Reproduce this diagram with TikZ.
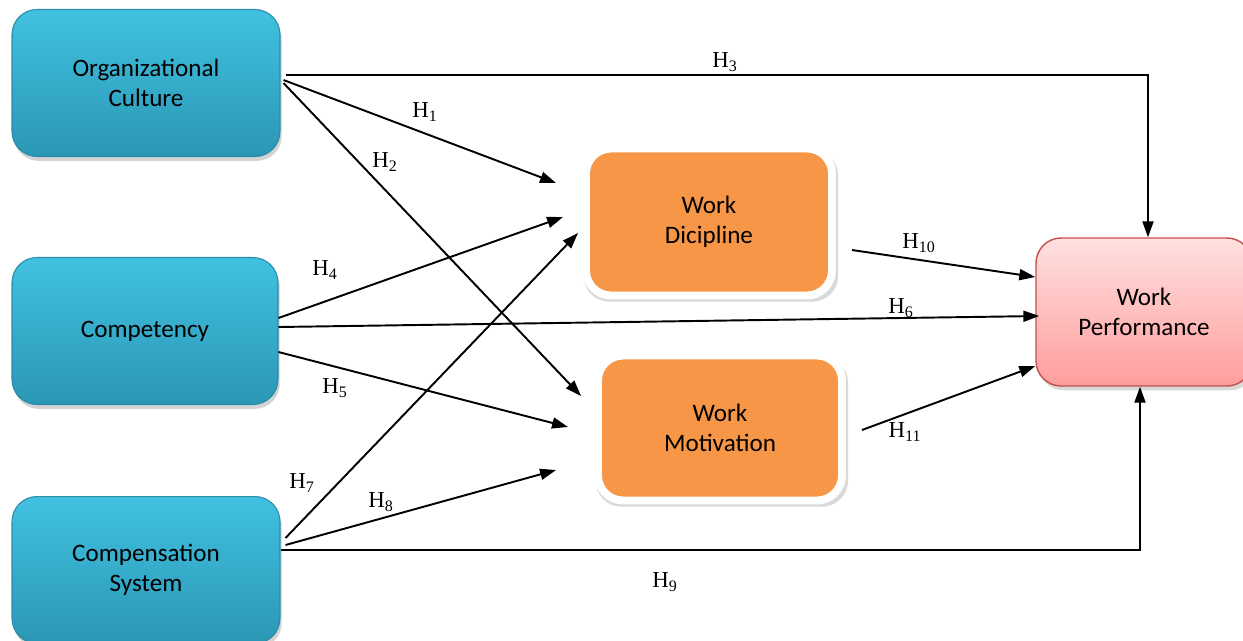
\documentclass[tikz,border=0pt]{standalone}
\usepackage{fontspec}
\setmainfont{Liberation Serif}
\newfontfamily\boxfont{Carlito}
\usetikzlibrary{arrows.meta,calc,shadows}
\definecolor{bluetop}{HTML}{41C1E1}
\definecolor{bluebot}{HTML}{2A97B4}
\definecolor{blueline}{HTML}{2C8BA6}
\definecolor{orangefill}{HTML}{F79646}
\definecolor{pinktop}{HTML}{FFE0E0}
\definecolor{pinkbot}{HTML}{FF9D9D}
\definecolor{pinkline}{HTML}{C0504D}
\tikzset{
  varbox/.style={rounded corners=0.5cm, align=center, inner sep=0pt,
    font=\boxfont\fontsize{14.3}{17}\selectfont, text=black},
  indep/.style={varbox, draw=blueline, line width=0.6pt,
    top color=bluetop, bottom color=bluebot,
    minimum width=5.36cm, minimum height=2.94cm,
    drop shadow={shadow xshift=1pt, shadow yshift=-2.5pt, opacity=0.35}},
  medi/.style={varbox, fill=orangefill, draw=white, line width=4.5pt,
    drop shadow={shadow xshift=1pt, shadow yshift=-2pt, shadow scale=1.035, opacity=0.3}},
  dep/.style={varbox, draw=pinkline, line width=0.8pt,
    top color=pinktop, bottom color=pinkbot,
    minimum width=4.32cm, minimum height=2.96cm,
    drop shadow={shadow xshift=1.5pt, shadow yshift=-2.5pt, opacity=0.3}},
  arr/.style={-{Triangle[length=0.32cm,width=0.22cm]}, line width=1.1pt, black},
  lab/.style={font=\fontsize{13}{14}\selectfont, inner sep=0pt}
}
\begin{document}
\begin{tikzpicture}[x=0.02cm, y=-0.02cm]
\useasboundingbox (0,0) rectangle (1243,640);
% variables
\node[indep] (oc) at (146,83) {Organizational\\Culture};
\node[indep, minimum width=5.32cm] (comp) at (145,331) {Competency};
\node[indep] (cs) at (146,570) {Compensation\\System};
\node[medi, minimum width=4.92cm, minimum height=2.94cm] (wd) at (709,222) {Work\\Dicipline};
\node[medi, minimum width=4.88cm, minimum height=2.9cm] (wm) at (720,428) {Work\\Motivation};
\node[dep] (wp) at (1144,312) {Work\\Performance};
% paths
\draw[arr] ($(oc.east)+(5,-8)$) -| ($(wp.north)+(4,0)$);
\draw[arr] ($(oc.east)+(3,-3)$) -- ($(wd.west)+(-26,-39)$);
\draw[arr] ($(oc.east)+(3,0)$) -- ($(wm.west)+(-13,-32)$);
\draw[arr] ($(comp.east)+(0,-13)$) -- ($(wd.west)+(-19,-5)$);
\draw[arr] ($(comp.east)+(0,-4)$) -- ($(wp.west)+(4,4)$);
\draw[arr] ($(comp.east)+(0,21)$) -- ($(wm.west)+(-26,-1)$);
\draw[arr] ($(cs.east)+(5,-32)$) -- ($(wd.west)+(-4,11)$);
\draw[arr] ($(cs.east)+(5,-25)$) -- ($(wm.west)+(-38,42)$);
\draw[arr] ($(cs.east)+(0,-20)$) -| ($(wp.south)+(-4,0)$);
\draw[arr] ($(wd.east)+(16,28)$) -- ($(wp.west)+(0,-35)$);
\draw[arr] ($(wm.east)+(16,2)$) -- ($(wp.west)+(0,54)$);
% labels
\node[lab] (h3) at (725,62) {H\textsubscript{3}};
\node[lab] (h1) at (425,112) {H\textsubscript{1}};
\node[lab] (h2) at (385,162) {H\textsubscript{2}};
\node[lab] (h4) at (325,270) {H\textsubscript{4}};
\node[lab] (h6) at (901,308) {H\textsubscript{6}};
\node[lab] (h5) at (335,388) {H\textsubscript{5}};
\node[lab] (h7) at (302,483) {H\textsubscript{7}};
\node[lab] (h8) at (381,502) {H\textsubscript{8}};
\node[lab] (h9) at (665,582) {H\textsubscript{9}};
\node[lab] (h10) at (919,243) {H\textsubscript{10}};
\node[lab] (h11) at (905,432) {H\textsubscript{11}};
\end{tikzpicture}
\end{document}
